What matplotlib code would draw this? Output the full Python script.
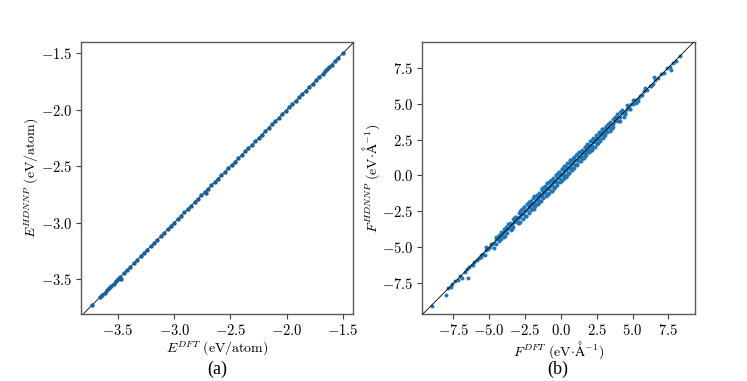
import matplotlib
matplotlib.use("Agg")
import matplotlib.pyplot as plt
from matplotlib.ticker import FuncFormatter, FixedLocator

plt.rcParams['mathtext.fontset'] = 'cm'
plt.rcParams['font.family'] = ['DejaVu Serif']

# ---- data: energies (eV/atom) ----
e_dft = [-3.73, -3.66, -3.64, -3.62, -3.60, -3.58, -3.56, -3.54, -3.52, -3.50,
         -3.48, -3.47, -3.45, -3.42, -3.39, -3.36, -3.33, -3.30, -3.27, -3.24,
         -3.21, -3.18, -3.15, -3.12, -3.09, -3.06, -3.03, -3.00, -2.97, -2.94,
         -2.91, -2.88, -2.85, -2.82, -2.79, -2.76, -2.73, -2.72, -2.70, -2.67,
         -2.64, -2.61, -2.58, -2.55, -2.52, -2.49, -2.46, -2.43, -2.40, -2.37,
         -2.34, -2.31, -2.28, -2.25, -2.22, -2.19, -2.16, -2.13, -2.10, -2.07,
         -2.04, -2.01, -1.98, -1.95, -1.92, -1.89, -1.86, -1.83, -1.80, -1.77,
         -1.74, -1.71, -1.68, -1.66, -1.64, -1.62, -1.60, -1.57, -1.54, -1.50]
e_hdnnp = [-3.73, -3.66, -3.64, -3.62, -3.60, -3.58, -3.56, -3.54, -3.52, -3.50,
           -3.48, -3.50, -3.45, -3.42, -3.39, -3.36, -3.33, -3.30, -3.27, -3.24,
           -3.21, -3.18, -3.15, -3.12, -3.09, -3.06, -3.03, -3.00, -2.97, -2.94,
           -2.91, -2.88, -2.85, -2.82, -2.79, -2.76, -2.73, -2.74, -2.70, -2.67,
           -2.64, -2.61, -2.58, -2.55, -2.52, -2.49, -2.46, -2.43, -2.40, -2.37,
           -2.34, -2.31, -2.28, -2.25, -2.22, -2.19, -2.16, -2.13, -2.10, -2.07,
           -2.04, -2.01, -1.98, -1.95, -1.92, -1.89, -1.86, -1.83, -1.80, -1.77,
           -1.74, -1.71, -1.68, -1.66, -1.64, -1.62, -1.60, -1.57, -1.54, -1.50]

# ---- data: forces (eV/A) ----
f_dft = [-9.00, -8.02, -7.85, -7.60, -7.42, -7.20, -7.05, -6.90, -6.72, -6.55,
         -6.40, -6.22, -6.05, -5.88, -5.70, -5.55, -5.40, -5.25, -5.10, -4.95,
         -4.80, -4.65, -4.50, -4.38, -4.25, -4.12, -4.00, -3.88, -3.75, -3.62,
         -3.50, -3.38, -3.25, -3.12, -3.00, -2.88, -2.75, -2.62, -2.50, -2.38,
         -2.25, -2.12, -2.00, -1.88, -1.75, -1.62, -1.50, -1.38, -1.25, -1.12,
         -1.00, -0.88, -0.75, -0.62, -0.50, -0.38, -0.25, -0.12, 0.00, 0.12,
         0.25, 0.38, 0.50, 0.62, 0.75, 0.88, 1.00, 1.12, 1.25, 1.38,
         1.50, 1.62, 1.75, 1.88, 2.00, 2.12, 2.25, 2.38, 2.50, 2.62,
         2.75, 2.88, 3.00, 3.12, 3.25, 3.38, 3.50, 3.62, 3.75, 3.88,
         4.00, 4.15, 4.30, 4.45, 4.60, 4.75, 4.90, 5.05, 5.20, 5.35,
         5.50, 5.65, 5.80, 6.00, 6.20, 6.40, 6.60, 6.80, 7.00, 7.20,
         7.40, 7.60, 7.80, 8.00, 8.30, -6.45, -4.70, 4.40, 6.50, 7.70,
         -4.20, -3.70, -3.20, -2.70, -2.20, -1.70, -1.20, -0.70, -0.20, 0.30,
         0.80, 1.30, 1.80, 2.30, 2.80, 3.30, 3.80, 4.30, -0.95, 0.55,
         -4.00, -3.50, -3.00, -2.50, -2.00, -1.50, -1.00, -0.50, 0.00, 0.50,
         1.00, 1.50, 2.00, 2.50, 3.00, 3.50, 4.00, 4.50, -1.80, 1.90,
         -3.85, -3.35, -2.85, -2.35, -1.85, -1.35, -0.85, -0.35, 0.15, 0.65,
         1.15, 1.65, 2.15, 2.65, 3.15, 3.65, 4.15, -2.60, -1.10, 0.90,
         -3.90, -3.40, -2.90, -2.40, -1.90, -1.40, -0.90, -0.40, 0.10, 0.60,
         1.10, 1.60, 2.10, 2.60, 3.10, 3.60, 4.10, -0.60, 0.35, 1.40,
         -0.30, -0.15, 0.05, 0.20, 0.40, -0.70, -1.30, 0.70, 1.70, -1.60,
         -5.20, -5.60, -6.10, -4.50, -4.90, 4.80, 5.40, 5.90, 6.30, -7.70,
         2.20, 2.90, -2.10, -2.95, 3.40, -3.30, 3.95, -4.35, 4.60, -5.30,
         -2.95, -2.75, -2.55, -2.35, -2.15, -1.95, -1.75, -1.55, -1.35, -1.15,
         -0.95, -0.75, -0.55, -0.35, -0.15, 0.05, 0.25, 0.45, 0.65, 0.85,
         1.05, 1.25, 1.45, 1.65, 1.85, 2.05, 2.25, 2.45, 2.65, 2.85,
         -2.85, -2.65, -2.45, -2.25, -2.05, -1.85, -1.65, -1.45, -1.25, -1.05,
         -0.85, -0.65, -0.45, -0.25, -0.05, 0.15, 0.35, 0.55, 0.75, 0.95,
         1.15, 1.35, 1.55, 1.75, 1.95, 2.15, 2.35, 2.55, 2.75, 2.95,
         -2.05, -1.55, -1.05, -0.55, -0.05, 0.45, 0.95, 1.45, 1.95, 2.45,
         -1.80, -1.30, -0.80, -0.30, 0.20, 0.70, 1.20, 1.70, 2.20, 2.70,
         3.05, 3.45, 3.85, 4.25, 4.65, 5.05, -3.15, -3.55, -3.95, -4.35,
         3.25, 3.65, 4.05, 4.45, 4.85, 5.25, -3.35, -3.75, -4.15, -4.55]
f_hdnnp = [-9.05, -8.30, -7.80, -7.55, -7.35, -7.28, -7.00, -7.15, -6.70, -6.50,
           -6.35, -6.25, -6.00, -5.85, -5.72, -5.50, -5.45, -5.20, -5.12, -5.00,
           -4.75, -4.68, -4.45, -4.40, -4.20, -4.15, -3.95, -3.90, -3.70, -3.65,
           -3.45, -3.40, -3.20, -3.15, -2.95, -2.90, -2.70, -2.65, -2.45, -2.40,
           -2.20, -2.15, -1.95, -1.90, -1.70, -1.65, -1.45, -1.40, -1.20, -1.15,
           -0.95, -0.90, -0.70, -0.65, -0.45, -0.40, -0.20, -0.15, 0.05, 0.10,
           0.30, 0.35, 0.55, 0.60, 0.80, 0.85, 1.05, 1.10, 1.30, 1.35,
           1.55, 1.60, 1.80, 1.85, 2.05, 2.10, 2.30, 2.35, 2.55, 2.60,
           2.80, 2.85, 3.05, 3.10, 3.30, 3.35, 3.55, 3.60, 3.80, 3.85,
           4.05, 4.10, 4.35, 4.40, 4.65, 4.70, 4.95, 5.00, 5.25, 5.30,
           5.55, 5.60, 5.85, 5.95, 6.25, 6.35, 6.65, 6.75, 7.05, 7.15,
           7.45, 7.55, 7.85, 7.95, 8.30, -7.15, -5.05, 4.10, 6.85, 7.30,
           -3.95, -3.40, -2.90, -2.35, -1.85, -1.35, -0.85, -0.35, 0.15, 0.65,
           1.10, 1.60, 2.10, 2.55, 3.05, 3.55, 4.05, 4.55, -0.55, 0.90,
           -4.25, -3.80, -3.30, -2.80, -2.35, -1.85, -1.35, -0.85, -0.35, 0.15,
           0.70, 1.20, 1.70, 2.25, 2.75, 3.25, 3.80, 4.30, -2.15, 1.60,
           -3.55, -3.05, -2.50, -2.00, -1.45, -0.95, -0.45, 0.05, 0.55, 1.05,
           1.50, 2.00, 2.45, 2.95, 3.45, 3.95, 4.40, -2.20, -0.70, 1.30,
           -4.20, -3.75, -3.25, -2.80, -2.30, -1.80, -1.30, -0.80, -0.30, 0.20,
           0.75, 1.25, 1.75, 2.25, 2.80, 3.30, 3.80, -1.05, -0.10, 1.00,
           0.10, 0.25, 0.45, -0.20, 0.00, -0.30, -0.90, 0.35, 1.35, -1.95,
           -4.95, -5.70, -6.20, -4.30, -4.75, 4.60, 5.20, 6.10, 6.20, -7.75,
           1.85, 3.25, -1.75, -3.30, 3.10, -2.95, 4.25, -4.55, 4.90, -5.50,
           -2.60, -2.40, -2.20, -2.00, -1.80, -1.60, -1.40, -1.20, -1.00, -0.80,
           -0.55, -0.35, -0.15, 0.05, 0.25, 0.45, 0.65, 0.85, 1.05, 1.25,
           1.40, 1.60, 1.80, 2.00, 2.20, 2.40, 2.60, 2.80, 3.00, 3.20,
           -3.20, -3.00, -2.80, -2.60, -2.40, -2.20, -2.00, -1.80, -1.60, -1.40,
           -1.25, -1.05, -0.85, -0.65, -0.45, -0.25, -0.05, 0.15, 0.35, 0.55,
           0.80, 1.00, 1.20, 1.40, 1.60, 1.80, 2.00, 2.20, 2.40, 2.60,
           -1.90, -1.40, -0.90, -0.40, 0.10, 0.60, 1.10, 1.60, 2.10, 2.60,
           -1.95, -1.45, -0.95, -0.45, 0.05, 0.55, 1.05, 1.55, 2.05, 2.55,
           3.30, 3.70, 4.10, 4.45, 4.85, 5.25, -2.90, -3.30, -3.70, -4.15,
           3.00, 3.40, 3.80, 4.25, 4.65, 5.05, -3.60, -4.00, -4.40, -4.75]

e_ticks = [-3.5, -3.0, -2.5, -2.0, -1.5]
f_ticks = [-7.5, -5.0, -2.5, 0.0, 2.5, 5.0, 7.5]
e_xlim, e_ylim = (-3.83, -1.41), (-3.81, -1.40)
f_xlim, f_ylim = (-9.69, 9.36), (-9.63, 9.28)

fig = plt.figure(figsize=(7.47, 3.81), dpi=100)
W, H = 747, 381
ax1 = fig.add_axes([81 / W, (H - 314) / H, 272 / W, 272 / H])
ax2 = fig.add_axes([422 / W, (H - 314) / H, 273 / W, 272 / H])

fmt = FuncFormatter(lambda v, p: f"${v:.1f}$")

def style(ax, ticks, xlim, ylim, line_z):
    lo = min(xlim[0], ylim[0]); hi = max(xlim[1], ylim[1])
    ax.plot([lo, hi], [lo, hi], color='black', lw=0.6, zorder=line_z)
    ax.set_xlim(xlim); ax.set_ylim(ylim)
    ax.xaxis.set_major_locator(FixedLocator(ticks))
    ax.yaxis.set_major_locator(FixedLocator(ticks))
    ax.xaxis.set_major_formatter(fmt)
    ax.yaxis.set_major_formatter(fmt)
    ax.tick_params(labelsize=10.5, length=3.5, width=0.8, color='0.25', pad=3)
    for s in ax.spines.values():
        s.set_color('0.35'); s.set_linewidth(1.0)

ax1.scatter(e_dft, e_hdnnp, s=10, color='#175f98', linewidths=0, zorder=2)
style(ax1, e_ticks, e_xlim, e_ylim, 1)
ax1.set_xlabel(r"$E^{DFT}\ \mathrm{(eV/atom)}$", fontsize=10, labelpad=1)
ax1.set_ylabel(r"$E^{HDNNP}\ \mathrm{(eV/atom)}$", fontsize=10, labelpad=0)

ax2.scatter(f_dft, f_hdnnp, s=8, color='#2177b5', linewidths=0, zorder=2)
style(ax2, f_ticks, f_xlim, f_ylim, 3)
ax2.set_xlabel(r"$F^{DFT}\ \mathrm{(eV{\cdot}\AA^{-1})}$", fontsize=10, labelpad=1)
ax2.set_ylabel(r"$F^{HDNNP}\ \mathrm{(eV{\cdot}\AA^{-1})}$", fontsize=10, labelpad=0)

fig.text(217 / W, 1 - 369 / H, "(a)", ha='center', va='center',
         fontsize=13, family='Liberation Serif')
fig.text(558 / W, 1 - 369 / H, "(b)", ha='center', va='center',
         fontsize=13, family='Liberation Serif')

fig.savefig("out.png", dpi=100)
